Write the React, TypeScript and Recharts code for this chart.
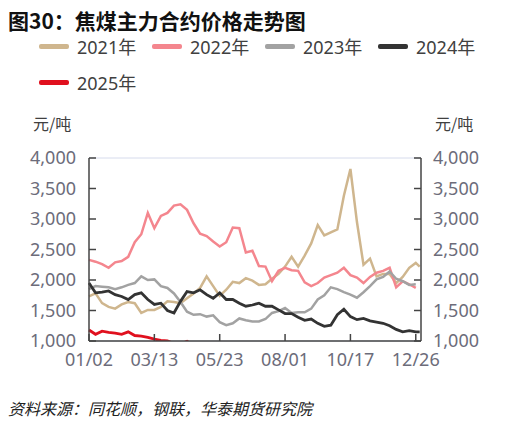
import React from "react";
import {
  CartesianGrid,
  Legend,
  Line,
  LineChart,
  XAxis,
  YAxis,
} from "recharts";

// trading-day index of each sampled point
const DAY = [
  0, 5, 10, 15, 20, 25, 30, 35, 40, 45, 50, 55, 60, 65, 70, 75, 80, 85, 90, 95,
  100, 105, 110, 115, 120, 125, 130, 135, 140, 145, 150, 155, 160, 165, 170,
  175, 180, 185, 190, 195, 200, 205, 210, 215, 220, 225, 230, 235, 240, 245,
  250, 253,
];

const Y2021 = [
  1730, 1780, 1620, 1560, 1530, 1600, 1640, 1620, 1460, 1510, 1510, 1560, 1650,
  1640, 1620, 1700, 1780, 1870, 2060, 1900, 1740, 1840, 1970, 1950, 2030, 1990,
  1920, 1930, 2020, 2100, 2220, 2380, 2220, 2400, 2600, 2900, 2730, 2780, 2830,
  3380, 3820, 2950, 2250, 2350, 2060, 2100, 2100, 1950, 2050, 2200, 2280, 2220,
];

const Y2022 = [
  2330, 2300, 2260, 2200, 2290, 2310, 2380, 2620, 2750, 3100, 2850, 3050, 3100,
  3220, 3240, 3150, 2930, 2760, 2720, 2630, 2550, 2620, 2860, 2850, 2450, 2480,
  2230, 2220, 1980, 2150, 2200, 2160, 2150, 1960, 1900, 1950, 2040, 2080, 2120,
  2200, 2080, 2040, 1950, 2050, 2120, 2150, 2200, 1880, 1980, 1930, 1870, null,
];

const Y2023 = [
  1850, 1900, 1890, 1880, 1850, 1880, 1920, 1950, 2060, 2000, 2010, 1900, 1870,
  1780, 1640, 1480, 1430, 1440, 1400, 1420, 1310, 1260, 1290, 1370, 1340, 1320,
  1320, 1360, 1460, 1490, 1540, 1460, 1470, 1470, 1530, 1680, 1750, 1880, 1850,
  1800, 1760, 1710, 1800, 1900, 2010, 2050, 2140, 2020, 1980, 1920, 1930, null,
];

const Y2024 = [
  1950, 1790, 1800, 1820, 1760, 1730, 1680, 1760, 1790, 1680, 1600, 1620, 1500,
  1460, 1650, 1810, 1790, 1840, 1760, 1700, 1790, 1680, 1680, 1620, 1570, 1590,
  1620, 1570, 1570, 1510, 1450, 1450, 1390, 1340, 1360, 1290, 1240, 1260, 1430,
  1520, 1400, 1350, 1370, 1330, 1310, 1290, 1250, 1190, 1150, 1170, 1150, 1150,
];

const Y2025 = [
  1180, 1110, 1160, 1140, 1130, 1110, 1150, 1090, 1080, 1060, 1030, 1010, 1000,
  960, 950, 995, 930, 880,
];

const TICK_DAYS = [0, 50, 100, 150, 200, 250];
const TICK_LABELS = ["01/02", "03/13", "05/23", "08/01", "10/17", "12/26"];
const Y_TICKS = [1000, 1500, 2000, 2500, 3000, 3500, 4000];

const data = DAY.map((day, k) => ({
  day,
  y2021: Y2021[k],
  y2022: Y2022[k],
  y2023: Y2023[k],
  y2024: Y2024[k],
  y2025: k < Y2025.length ? Y2025[k] : null,
}));

const FONT = "'Noto Sans', 'Noto Sans CJK SC', sans-serif";
const tickStyle = { fontSize: 18, fill: "#6c6c7a", fontFamily: FONT };
const fmt = (v: number) => v.toLocaleString("en-US");

function LegendBox(props: any) {
  const items = props.payload || [];
  return (
    <div style={{ display: "flex", flexWrap: "wrap", width: 460 }}>
      {items.map((it: any) => (
        <div
          key={it.value}
          style={{ width: 113, height: 36, display: "flex", alignItems: "center" }}
        >
          <span
            style={{
              width: 30,
              height: 5,
              borderRadius: 2,
              background: it.color,
              marginRight: 8,
            }}
          />
          <span style={{ fontSize: 18, color: "#404040", fontFamily: FONT }}>
            {it.value}
          </span>
        </div>
      ))}
    </div>
  );
}

export default function App() {
  return (
    <div
      style={{
        position: "absolute",
        left: 0,
        top: 0,
        width: 519,
        height: 426,
        background: "#fff",
        fontFamily: FONT,
      }}
    >
      <div
        style={{
          position: "absolute",
          left: 8,
          top: 9,
          fontSize: 21,
          lineHeight: "22px",
          fontWeight: 700,
          color: "#111",
          fontFamily: "'Noto Sans CJK SC', sans-serif",
        }}
      >
        图30：焦煤主力合约价格走势图
      </div>
      <div
        style={{
          position: "absolute",
          left: 33,
          top: 115,
          fontSize: 16,
          lineHeight: "16px",
          color: "#404040",
          fontFamily: "'Noto Sans CJK SC', sans-serif",
        }}
      >
        元/吨
      </div>
      <div
        style={{
          position: "absolute",
          left: 435,
          top: 115,
          fontSize: 16,
          lineHeight: "16px",
          color: "#404040",
          fontFamily: "'Noto Sans CJK SC', sans-serif",
        }}
      >
        元/吨
      </div>
      <LineChart
        width={519}
        height={426}
        data={data}
        margin={{ top: 158, right: 38, bottom: 55, left: 29 }}
        style={{ position: "absolute", left: 0, top: 0 }}
      >
        <CartesianGrid vertical={false} stroke="#d6dbec" strokeWidth={1} />
        <XAxis
          dataKey="day"
          type="number"
          domain={[0, 254]}
          ticks={TICK_DAYS}
          tickFormatter={(v: number) => TICK_LABELS[TICK_DAYS.indexOf(v)]}
          tick={tickStyle}
          height={30}
          tickSize={-7}
          tickMargin={19}
          axisLine={{ stroke: "#444", strokeWidth: 1.5 }}
          tickLine={{ stroke: "#444", strokeWidth: 1.5 }}
          interval={0}
        />
        <YAxis
          yAxisId="left"
          domain={[1000, 4000]}
          ticks={Y_TICKS}
          allowDataOverflow
          tickFormatter={fmt}
          tick={tickStyle}
          width={60}
          tickSize={-7}
          tickMargin={20}
          axisLine={{ stroke: "#444", strokeWidth: 1.5 }}
          tickLine={{ stroke: "#444", strokeWidth: 1.5 }}
          interval={0}
        />
        <YAxis
          yAxisId="right"
          orientation="right"
          domain={[1000, 4000]}
          ticks={Y_TICKS}
          allowDataOverflow
          tickFormatter={fmt}
          tick={tickStyle}
          width={60}
          tickSize={-7}
          tickMargin={19}
          axisLine={{ stroke: "#444", strokeWidth: 1.5 }}
          tickLine={{ stroke: "#444", strokeWidth: 1.5 }}
          interval={0}
        />
        <Legend
          layout="vertical"
          align="center"
          verticalAlign="middle"
          content={<LegendBox />}
          wrapperStyle={{ top: 28, left: 39, width: 460 }}
        />
        <Line yAxisId="left" dataKey="y2021" name="2021年" stroke="#cfb68e" strokeWidth={2.5} dot={false} isAnimationActive={false} />
        <Line yAxisId="left" dataKey="y2022" name="2022年" stroke="#f4868e" strokeWidth={2.5} dot={false} isAnimationActive={false} />
        <Line yAxisId="left" dataKey="y2023" name="2023年" stroke="#a2a2a2" strokeWidth={2.5} dot={false} isAnimationActive={false} />
        <Line yAxisId="left" dataKey="y2024" name="2024年" stroke="#333333" strokeWidth={2.8} dot={false} isAnimationActive={false} />
        <Line yAxisId="left" dataKey="y2025" name="2025年" stroke="#e0101e" strokeWidth={2.8} dot={false} isAnimationActive={false} />
      </LineChart>
      <div
        style={{
          position: "absolute",
          left: 8,
          top: 399,
          fontSize: 16,
          lineHeight: "18px",
          fontStyle: "italic",
          color: "#222",
          fontFamily: "'Noto Sans CJK SC', sans-serif",
        }}
      >
        资料来源：同花顺，钢联，华泰期货研究院
      </div>
    </div>
  );
}
